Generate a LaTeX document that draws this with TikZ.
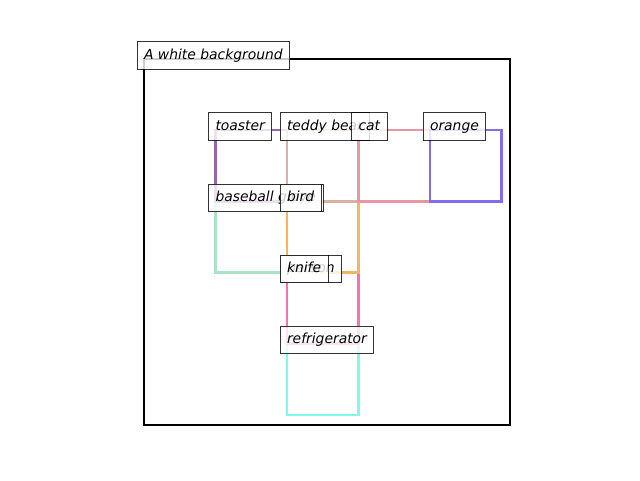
\documentclass[tikz,border=0pt]{standalone}
\usepackage{fontspec}
\newfontfamily\lblfont{DejaVu Sans}[ItalicFont={DejaVu Sans Oblique}]
\definecolor{cToaster}{RGB}{155,100,170}
\definecolor{cTeddy}{RGB}{220,176,160}
\definecolor{cCat}{RGB}{232,150,164}
\definecolor{cOrange}{RGB}{130,110,235}
\definecolor{cGlove}{RGB}{170,228,200}
\definecolor{cBird}{RGB}{245,180,95}
\definecolor{cKnife}{RGB}{245,115,175}
\definecolor{cFridge}{RGB}{130,250,235}
\tikzset{
  bbox/.style={line width=2.78pt, line join=miter},
  lbl/.style={anchor=base west, draw=black, draw opacity=0.8, fill=white,
    fill opacity=0.8, text opacity=1, line width=1pt, inner xsep=7pt,
    inner ysep=7pt, outer sep=0pt, text height=10.3pt, text depth=3.3pt,
    font=\lblfont\itshape\fontsize{13.89}{16}\selectfont}
}
\begin{document}
\begin{tikzpicture}[x=1pt,y=-1pt]
\useasboundingbox (0,0) rectangle (640,480);
\fill[white] (0,0) rectangle (640,480);
% grid corner coordinates
\coordinate (fa) at (144,59);
\coordinate (fb) at (510,425);
% rectangles
\draw[bbox, black] (fa) rectangle (fb);
\draw[bbox, cFridge] (287,343.5) rectangle (358.5,415);
\draw[bbox, cKnife] (287,272.5) rectangle (358.5,343.5);
\draw[bbox, cGlove] (215.5,201.5) rectangle (287,272.5);
\draw[bbox, cBird] (287,201.5) rectangle (358.5,272.5);
\draw[bbox, cToaster] (215.5,130) rectangle (287,201.5);
\draw[bbox, cTeddy] (287,130) rectangle (358.5,201.5);
\draw[bbox, cCat] (358.5,130) rectangle (430,201.5);
\draw[bbox, cOrange] (430,130) rectangle (501.5,201.5);
% labels
\node[lbl] (lbg) at (137,59) {A white background};
\node[lbl] (lperson) at (280,272.5) {person};
\node[lbl] (lknife) at (280,272.5) {knife};
\node[lbl] (lglove) at (208.5,201.5) {baseball glove};
\node[lbl] (lbird) at (280,201.5) {bird};
\node[lbl] (ltoaster) at (208.5,130) {toaster};
\node[lbl] (lteddy) at (280,130) {teddy bear};
\node[lbl] (lcat) at (351.5,130) {cat};
\node[lbl] (lorange) at (423,130) {orange};
\node[lbl] (lfridge) at (280,343.5) {refrigerator};
\end{tikzpicture}
\end{document}
